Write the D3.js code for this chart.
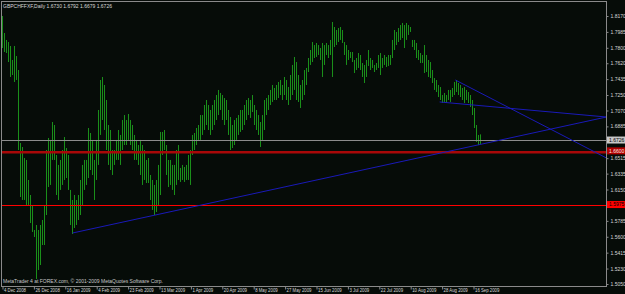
<!DOCTYPE html>
<html>
<head>
<meta charset="utf-8">
<script src="https://cdn.jsdelivr.net/npm/d3@7"></script>
<style>
  body { margin: 0; background: #060c08; }
  svg { display: block; font-family: 'Liberation Sans', Arial, sans-serif; }
</style>
</head>
<body>
<svg width="625" height="294"></svg>
<script>
// GBPCHF daily bars, 4 Dec 2008 .. ~21 Sep 2009 (one value per bar)
const title = 'GBPCHFFXF,Daily';
const lastBar = [1.6730, 1.6792, 1.6679, 1.6726];

const highs = [
    1.8170, 1.7972, 1.7891, 1.7867, 1.7821, 1.7658, 1.7821, 1.7704, 1.7541, 1.6692,
    1.6645, 1.6517, 1.6494, 1.6261, 1.6086, 1.5970, 1.5679, 1.5737, 1.5679, 1.5737,
    1.5795, 1.5970, 1.6610, 1.6750, 1.6727, 1.6936, 1.6901, 1.6843, 1.6552, 1.6436,
    1.6494, 1.6610, 1.6761, 1.6633, 1.6552, 1.6145, 1.6028, 1.6086, 1.6028, 1.6086,
    1.6261, 1.6436, 1.6494, 1.6494, 1.6866, 1.6808, 1.6727, 1.6494, 1.6727, 1.7076,
    1.7425, 1.7460, 1.7367, 1.7192, 1.6901, 1.6843, 1.6610, 1.6610, 1.6727, 1.6843,
    1.6785, 1.6959, 1.7017, 1.6959, 1.7029, 1.6959, 1.6901, 1.6785, 1.6727, 1.6668,
    1.6727, 1.6668, 1.6610, 1.6494, 1.6517, 1.6319, 1.6261, 1.6203, 1.6261, 1.6436,
    1.6494, 1.6820, 1.6820, 1.6843, 1.6668, 1.6494, 1.6494, 1.6436, 1.6436, 1.6610,
    1.6668, 1.6401, 1.6436, 1.6412, 1.6436, 1.6552, 1.6610, 1.6785, 1.6808, 1.6866,
    1.6901, 1.7017, 1.7017, 1.7134, 1.7192, 1.7134, 1.7076, 1.7134, 1.7192, 1.7250,
    1.7309, 1.7274, 1.7250, 1.7215, 1.7192, 1.7076, 1.6994, 1.6901, 1.6959, 1.6983,
    1.7017, 1.7076, 1.7076, 1.7134, 1.7192, 1.7215, 1.7192, 1.7250, 1.7134, 1.7076,
    1.7017, 1.6936, 1.7017, 1.7134, 1.7192, 1.7215, 1.7250, 1.7309, 1.7367, 1.7332,
    1.7367, 1.7402, 1.7425, 1.7367, 1.7460, 1.7425, 1.7343, 1.7483, 1.7600, 1.7693,
    1.7634, 1.7483, 1.7367, 1.7425, 1.7541, 1.7565, 1.7681, 1.7774, 1.7867, 1.7832,
    1.7856, 1.7832, 1.7797, 1.7856, 1.7832, 1.7856, 1.7832, 1.7891, 1.8100, 1.8042,
    1.8007, 1.8030, 1.8042, 1.8007, 1.7867, 1.7832, 1.7774, 1.7751, 1.7751, 1.7658,
    1.7681, 1.7739, 1.7716, 1.7623, 1.7600, 1.7658, 1.7774, 1.7716, 1.7681, 1.7658,
    1.7600, 1.7623, 1.7716, 1.7739, 1.7681, 1.7716, 1.7693, 1.7716, 1.7716, 1.7891,
    1.8007, 1.7984, 1.8030, 1.8065, 1.8089, 1.8065, 1.8089, 1.8065, 1.8042, 1.7891,
    1.7891, 1.7856, 1.7774, 1.7739, 1.7716, 1.7832, 1.7716, 1.7658, 1.7634, 1.7541,
    1.7448, 1.7425, 1.7367, 1.7343, 1.7250, 1.7274, 1.7250, 1.7309, 1.7309, 1.7332,
    1.7402, 1.7425, 1.7390, 1.7367, 1.7332, 1.7343, 1.7309, 1.7285, 1.7250, 1.7192,
    1.7099, 1.7052, 1.6901, 1.6785, 1.6792
];

const lows = [
    1.7797, 1.7751, 1.7739, 1.7634, 1.7460, 1.7483, 1.7402, 1.7425, 1.6610, 1.6063,
    1.6028, 1.6028, 1.5970, 1.5970, 1.5760, 1.5656, 1.5597, 1.5108, 1.5213, 1.5271,
    1.5504, 1.5504, 1.5853, 1.6179, 1.6203, 1.6494, 1.6494, 1.6494, 1.6086, 1.6028,
    1.6145, 1.6203, 1.6261, 1.6284, 1.6145, 1.5737, 1.5632, 1.5702, 1.5737, 1.5795,
    1.5853, 1.5970, 1.6145, 1.6203, 1.6284, 1.6377, 1.6319, 1.6028, 1.6261, 1.6436,
    1.6785, 1.6959, 1.6843, 1.6610, 1.6436, 1.6377, 1.6319, 1.6436, 1.6494, 1.6494,
    1.6436, 1.6610, 1.6668, 1.6668, 1.6727, 1.6668, 1.6610, 1.6494, 1.6494, 1.6436,
    1.6319, 1.6203, 1.6261, 1.6226, 1.6226, 1.6028, 1.5912, 1.5853, 1.5888, 1.5970,
    1.6086, 1.6377, 1.6552, 1.6610, 1.6319, 1.6179, 1.6203, 1.6145, 1.6086, 1.6203,
    1.6261, 1.6238, 1.6261, 1.6238, 1.6261, 1.6261, 1.6203, 1.6552, 1.6610, 1.6668,
    1.6727, 1.6727, 1.6785, 1.6843, 1.6901, 1.6843, 1.6785, 1.6843, 1.6901, 1.6959,
    1.7017, 1.7076, 1.6959, 1.6901, 1.6959, 1.6785, 1.6610, 1.6633, 1.6668, 1.6727,
    1.6785, 1.6820, 1.6843, 1.6901, 1.6959, 1.7017, 1.6983, 1.7052, 1.6901, 1.6843,
    1.6785, 1.6645, 1.6727, 1.6843, 1.6901, 1.7017, 1.7076, 1.7134, 1.7169, 1.7192,
    1.7192, 1.7215, 1.7250, 1.7192, 1.7250, 1.7192, 1.7134, 1.7192, 1.7250, 1.7309,
    1.7192, 1.7169, 1.7099, 1.7192, 1.7250, 1.7367, 1.7518, 1.7600, 1.7634, 1.7681,
    1.7693, 1.7716, 1.7658, 1.7460, 1.7600, 1.7716, 1.7681, 1.7716, 1.7460, 1.7809,
    1.7832, 1.7867, 1.7891, 1.7856, 1.7716, 1.7600, 1.7658, 1.7681, 1.7634, 1.7506,
    1.7541, 1.7565, 1.7541, 1.7460, 1.7390, 1.7460, 1.7623, 1.7588, 1.7541, 1.7565,
    1.7518, 1.7541, 1.7565, 1.7483, 1.7565, 1.7600, 1.7576, 1.7588, 1.7600, 1.7681,
    1.7774, 1.7832, 1.7867, 1.7891, 1.7914, 1.7797, 1.7891, 1.7949, 1.7984, 1.7809,
    1.7774, 1.7681, 1.7658, 1.7623, 1.7623, 1.7506, 1.7518, 1.7460, 1.7448, 1.7390,
    1.7309, 1.7285, 1.7227, 1.7192, 1.7157, 1.7169, 1.7157, 1.7192, 1.7169, 1.7227,
    1.7250, 1.7285, 1.7250, 1.7227, 1.7192, 1.7157, 1.7192, 1.7157, 1.7111, 1.7017,
    1.6901, 1.6866, 1.6703, 1.6668, 1.6679
];

// one date label every 16 bars
const dateLabels = ['4 Dec 2008', '26 Dec 2008', '16 Jan 2009', '4 Feb 2009', '23 Feb 2009',
    '13 Mar 2009', '1 Apr 2009', '20 Apr 2009', '8 May 2009', '27 May 2009', '15 Jun 2009',
    '3 Jul 2009', '22 Jul 2009', '10 Aug 2009', '28 Aug 2009', '16 Sep 2009'];

const priceTicks = [1.8170, 1.7985, 1.7800, 1.7620, 1.7435, 1.7250, 1.7070, 1.6885,
    1.6515, 1.6335, 1.6150, 1.5785, 1.5600, 1.5415, 1.5230, 1.5050];

const bidPrice = 1.6726;
const supportLevel = 1.6600;
const stopLevel = 1.5975;

// trend lines: [startBar, startPrice, endBar, endPrice]
const trendLines = [
    [36, 1.5644, 308, 1.6994],
    [231, 1.7425, 308, 1.6517],
    [223, 1.7169, 308, 1.6994]
];

const svg = d3.select('svg');
const width = +svg.attr('width');
const height = +svg.attr('height');
const plot = { left: 1.5, right: 606.5, top: 1.5, bottom: 286.5 };

const x = d3.scaleLinear().domain([0, 240]).range([2, 473]);
const y = d3.scaleLinear().domain([1.5050, 1.8170]).range([284, 16]);

// bars sit on even pixel columns, like the terminal draws them
const barX = i => Math.round(x(i) / 2) * 2 + 0.5;

svg.append('rect').attr('width', width).attr('height', height).attr('fill', '#060c08');

svg.append('clipPath').attr('id', 'plot-clip')
    .append('rect')
    .attr('x', plot.left).attr('y', plot.top)
    .attr('width', plot.right - plot.left).attr('height', plot.bottom - plot.top);

const body = svg.append('g').attr('clip-path', 'url(#plot-clip)');

// bars
body.append('g')
    .selectAll('line')
    .data(highs)
    .join('line')
    .attr('x1', (d, i) => barX(i))
    .attr('x2', (d, i) => barX(i))
    .attr('y1', d => y(d))
    .attr('y2', (d, i) => Math.max(y(lows[i]), y(d) + 1))
    .attr('stroke', '#1a8f1a')
    .attr('stroke-width', 1);

// horizontal lines
body.append('line')
    .attr('x1', plot.left).attr('x2', plot.right)
    .attr('y1', Math.round(y(bidPrice)) + 0.5).attr('y2', Math.round(y(bidPrice)) + 0.5)
    .attr('stroke', '#8c8c8c');

body.append('line')
    .attr('x1', plot.left).attr('x2', plot.right)
    .attr('y1', y(supportLevel) + 1.5).attr('y2', y(supportLevel) + 1.5)
    .attr('stroke', '#a80808').attr('stroke-width', 2.5);

body.append('line')
    .attr('x1', plot.left).attr('x2', plot.right)
    .attr('y1', Math.round(y(stopLevel)) + 0.5).attr('y2', Math.round(y(stopLevel)) + 0.5)
    .attr('stroke', '#ff0000');

// trend lines
body.append('g')
    .selectAll('line')
    .data(trendLines)
    .join('line')
    .attr('x1', d => x(d[0])).attr('y1', d => y(d[1]))
    .attr('x2', d => x(d[2])).attr('y2', d => y(d[3]))
    .attr('stroke', '#1a1ab8')
    .attr('stroke-width', 1);

// frame
svg.append('rect')
    .attr('x', plot.left).attr('y', plot.top)
    .attr('width', plot.right - plot.left).attr('height', plot.bottom - plot.top)
    .attr('fill', 'none').attr('stroke', '#8a8a8a');

// price axis
const yAxis = svg.append('g')
    .attr('transform', `translate(${plot.right},0)`)
    .call(d3.axisRight(y).tickValues(priceTicks).tickSize(2).tickPadding(2).tickFormat(d3.format('.4f')));
yAxis.select('.domain').remove();
yAxis.selectAll('line').attr('stroke', '#8a8a8a');
yAxis.selectAll('text').attr('fill', '#d8d8d8').attr('font-size', 5).attr('font-family', null);

// date axis
const xAxis = svg.append('g')
    .attr('transform', `translate(0,${plot.bottom})`)
    .call(d3.axisBottom(x)
        .tickValues(dateLabels.map((d, i) => i * 16))
        .tickSize(3)
        .tickFormat((d, i) => dateLabels[i]));
xAxis.select('.domain').remove();
xAxis.selectAll('.tick line').attr('transform', 'translate(0.5,0)').attr('stroke', '#8a8a8a');
xAxis.selectAll('text')
    .attr('text-anchor', 'start')
    .attr('x', 1.5).attr('y', 5.5).attr('dy', 0)
    .attr('fill', '#d8d8d8').attr('font-size', 5).attr('font-family', null)
    .each(function () {
        // terminal font is narrower than Liberation Sans
        const w = this.getComputedTextLength();
        d3.select(this).attr('textLength', w * 0.86).attr('lengthAdjust', 'spacingAndGlyphs');
    });

// price tags on the right scale
function priceTag(price, bg, fg) {
    const g = svg.append('g').attr('transform', `translate(${plot.right + 0.5},${y(price)})`);
    g.append('rect').attr('x', 0).attr('y', -3.5).attr('width', 18).attr('height', 7).attr('fill', bg);
    g.append('text').attr('x', 2).attr('y', 1.8)
        .attr('font-size', 5).attr('fill', fg)
        .text(d3.format('.4f')(price));
}
priceTag(bidPrice, '#c8c8c8', '#000000');
priceTag(supportLevel, '#b00000', '#ffe0e0');
priceTag(stopLevel, '#ff0000', '#000000');

// titles
svg.append('text')
    .attr('x', 3).attr('y', 7.5)
    .attr('font-size', 5).attr('fill', '#d8d8d8')
    .text(title + ' ' + lastBar.map(d3.format('.4f')).join(' '));

svg.append('text')
    .attr('x', 3).attr('y', 283)
    .attr('font-size', 5).attr('fill', '#c8c8c8')
    .text('MetaTrader 4 at FOREX.com, \u00a9 2001-2009 MetaQuotes Software Corp.');
</script>
</body>
</html>
